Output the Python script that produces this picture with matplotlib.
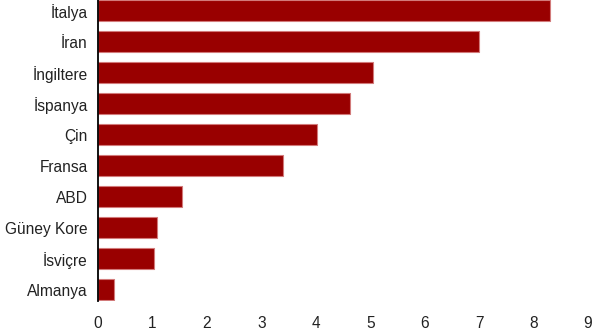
import matplotlib.pyplot as plt

countries = ["İtalya", "İran", "İngiltere", "İspanya", "Çin", "Fransa",
             "ABD", "Güney Kore", "İsviçre", "Almanya"]
values = [8.31, 7.0, 5.06, 4.62, 4.02, 3.39, 1.54, 1.09, 1.03, 0.30]
xticks = list(range(0, 10))

plt.rcParams["font.family"] = ["Liberation Sans", "DejaVu Sans"]

fig = plt.figure(figsize=(5.92, 3.33), dpi=100)
ax = fig.add_axes([98 / 592, 1 - 301 / 333, 490 / 592, 301 / 333])

pos = list(range(len(countries)))
ax.barh(pos, values, height=0.68, color="#990000", edgecolor="#d27a7a", linewidth=0.8)

ax.set_xlim(0, 9)
ax.set_ylim(9.37, -0.34)
ax.set_yticks(pos)
ax.set_yticklabels(countries, fontsize=11.2, color="#222222")
ax.set_xticks(xticks)
ax.set_xticklabels([str(t) for t in xticks], fontsize=11.2, color="#222222")
ax.tick_params(axis="y", length=0, pad=7.5)
ax.tick_params(axis="x", length=0, pad=10.5)

for s in ["top", "right", "bottom"]:
    ax.spines[s].set_visible(False)
ax.spines["left"].set_linewidth(1.3)
ax.spines["left"].set_color("black")

fig.savefig("out.png", dpi=100)
